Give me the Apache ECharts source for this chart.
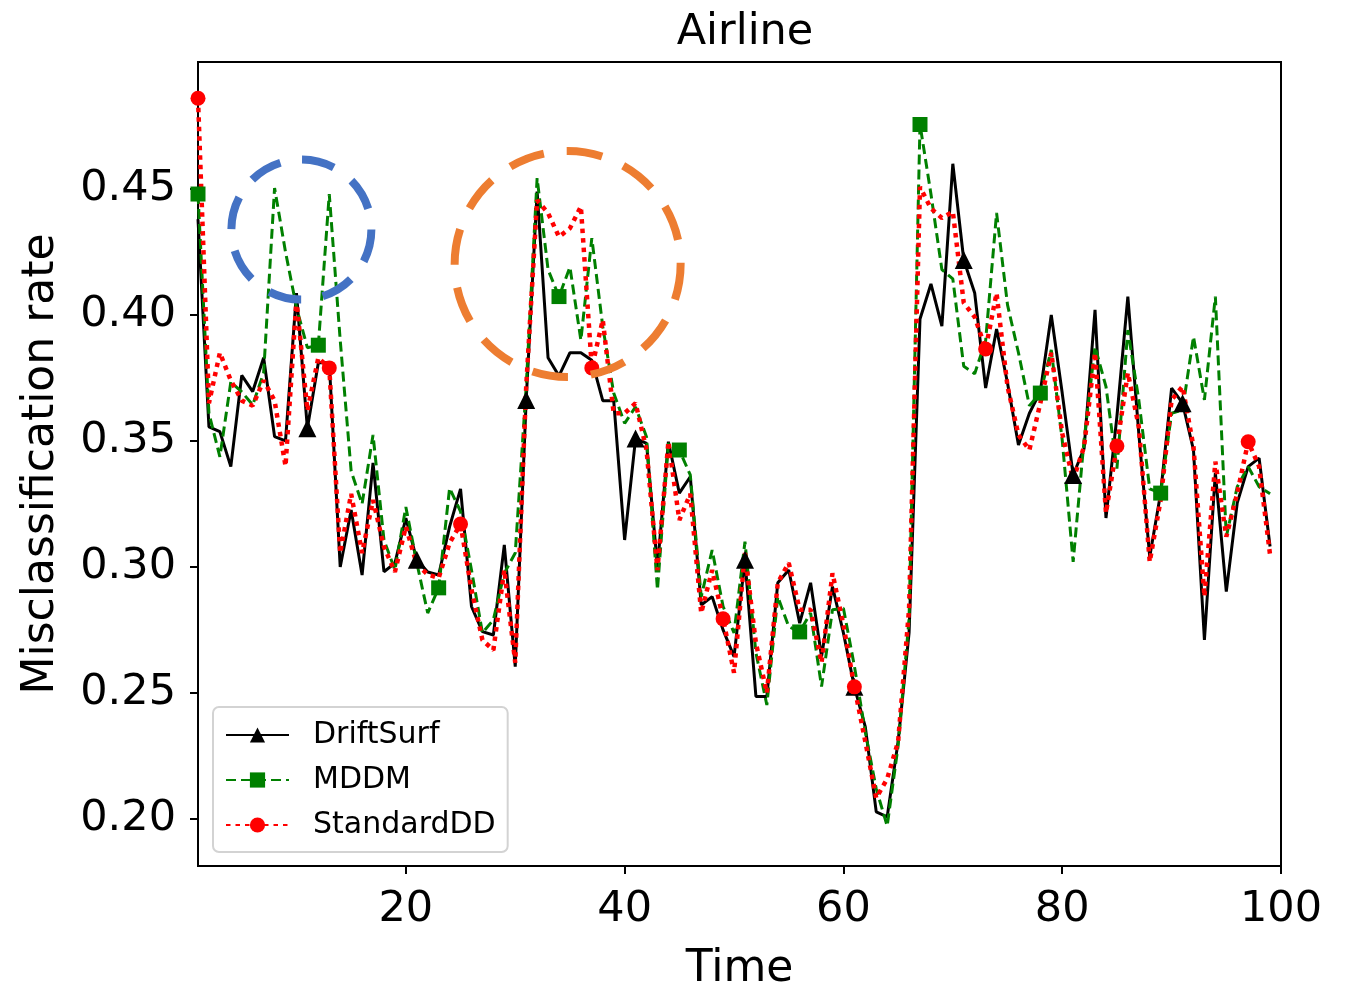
<!DOCTYPE html>
<html>
<head>
<meta charset="utf-8">
<script src="https://cdn.jsdelivr.net/npm/echarts@6.0.0/dist/echarts.min.js"></script>
<style>
  html, body { margin: 0; padding: 0; background: #fff; }
  #chart { width: 1350px; height: 989px; }
</style>
</head>
<body>
<div id="chart"></div>
<script>
// time steps 1..99
const time = [];
for (let t = 1; t <= 99; t++) time.push(t);

const driftSurf = [
  0.438, 0.3556, 0.3537, 0.3398, 0.376, 0.3696, 0.383, 0.3517, 0.350, 0.4087,
  0.355, 0.381, 0.381, 0.300, 0.3226, 0.2968, 0.3413, 0.2981, 0.3015, 0.3194,
  0.3028, 0.298, 0.2968, 0.316, 0.331, 0.2843, 0.2743, 0.273, 0.3087, 0.2604,
  0.3663, 0.449, 0.383, 0.3758, 0.385, 0.385, 0.382, 0.366, 0.366, 0.3107,
  0.351, 0.349, 0.300, 0.3497, 0.3293, 0.3358, 0.2849, 0.2882, 0.275, 0.2644,
  0.3028, 0.2486, 0.2486, 0.2937, 0.2988, 0.2777, 0.2937, 0.2644, 0.2922, 0.2738,
  0.2524, 0.2365, 0.2028, 0.2008, 0.2307, 0.2738, 0.3984, 0.4123, 0.3956, 0.46,
  0.4218, 0.4087, 0.371, 0.3944, 0.373, 0.3484, 0.361, 0.3696, 0.400, 0.369,
  0.3365, 0.347, 0.402, 0.3194, 0.3597, 0.4073, 0.353, 0.304, 0.3293, 0.371,
  0.365, 0.3464, 0.271, 0.3373, 0.2902, 0.3254, 0.3398, 0.3432, 0.3081
];

const mddm = [
  0.448, 0.361, 0.3437, 0.3734, 0.3695, 0.3643, 0.377, 0.4504, 0.425, 0.403,
  0.387, 0.388, 0.448, 0.39, 0.338, 0.325, 0.3524, 0.3107, 0.2988, 0.3238,
  0.3016, 0.2817, 0.2917, 0.3313, 0.322, 0.2988, 0.2738, 0.279, 0.2975, 0.3055,
  0.3715, 0.4543, 0.418, 0.4073, 0.419, 0.390, 0.4305, 0.3954, 0.369, 0.357,
  0.3635, 0.3516, 0.2909, 0.349, 0.3464, 0.3365, 0.2882, 0.3067, 0.2843, 0.2738,
  0.310, 0.2659, 0.2452, 0.2882, 0.2763, 0.2742, 0.2817, 0.2525, 0.283, 0.2836,
  0.2607, 0.2345, 0.2119, 0.1972, 0.229, 0.2794, 0.4756, 0.448, 0.418, 0.4143,
  0.3796, 0.3767, 0.3898, 0.4405, 0.404, 0.385, 0.364, 0.369, 0.3861, 0.3504,
  0.302, 0.3504, 0.3874, 0.3716, 0.339, 0.394, 0.3663, 0.331, 0.3293, 0.361,
  0.3623, 0.3914, 0.3663, 0.4073, 0.312, 0.3318, 0.3398, 0.3318, 0.329
];

const standardDD = [
  0.486, 0.365, 0.385, 0.374, 0.366, 0.364, 0.374, 0.366, 0.340, 0.406,
  0.362, 0.383, 0.379, 0.3055, 0.329, 0.3055, 0.3266, 0.308, 0.298, 0.316,
  0.301, 0.297, 0.2956, 0.3095, 0.317, 0.291, 0.271, 0.267, 0.2988, 0.262,
  0.3715, 0.4456, 0.4404, 0.431, 0.4344, 0.443, 0.379, 0.398, 0.361, 0.361,
  0.365, 0.3465, 0.2988, 0.3497, 0.3186, 0.329, 0.2817, 0.2988, 0.2794, 0.258,
  0.3055, 0.2698, 0.25, 0.2937, 0.3016, 0.283, 0.283, 0.262, 0.2975, 0.277,
  0.2524, 0.2307, 0.2083, 0.2159, 0.2307, 0.2833, 0.4508, 0.4423, 0.4385, 0.441,
  0.4048, 0.3992, 0.3865, 0.4087, 0.3716, 0.3524, 0.3464, 0.365, 0.385, 0.353,
  0.3345, 0.3477, 0.385, 0.3214, 0.348, 0.377, 0.3557, 0.302, 0.3266, 0.3663,
  0.3716, 0.3477, 0.2882, 0.3418, 0.312, 0.3293, 0.3497, 0.3398, 0.3048
];

const xTicks = [20, 40, 60, 80, 100];
const yTicks = [0.20, 0.25, 0.30, 0.35, 0.40, 0.45];

const FONT = 'DejaVu Sans';

function pairs(arr) {
  return arr.map((v, i) => [time[i], v]);
}

var chart = echarts.init(document.getElementById('chart'));

var option = {
  animation: false,
  backgroundColor: '#fff',
  title: {
    text: 'Airline',
    left: 740,
    textAlign: 'center',
    top: 6,
    textStyle: { fontFamily: FONT, fontSize: 43, fontWeight: 'normal', color: '#000' }
  },
  grid: {
    left: 198, right: 69, top: 62, bottom: 123,
    outerBoundsMode: 'none',
    show: true, borderColor: '#000', borderWidth: 2, backgroundColor: 'transparent'
  },
  legend: {
    orient: 'vertical',
    left: 213, top: 707,
    padding: [13, 12, 12, 12],
    itemWidth: 63, itemHeight: 19, itemGap: 15,
    backgroundColor: '#fff',
    borderColor: '#d3d3d3', borderWidth: 2, borderRadius: 6,
    textStyle: { fontFamily: FONT, fontSize: 30, color: '#000', padding: [0, 0, 0, 19] },
    data: ['DriftSurf', 'MDDM', 'StandardDD']
  },
  xAxis: {
    type: 'value',
    min: 1, max: 100,
    name: 'Time', nameLocation: 'middle', nameGap: 82,
    nameTextStyle: { fontFamily: FONT, fontSize: 44, color: '#000' },
    axisLine: { lineStyle: { color: '#000', width: 2 } },
    axisTick: { show: true, length: 8, lineStyle: { color: '#000', width: 2 }, customValues: xTicks },
    axisLabel: { fontFamily: FONT, fontSize: 43, color: '#000', margin: 22, customValues: xTicks },
    splitLine: { show: false }
  },
  yAxis: {
    type: 'value',
    min: 0.1813, max: 0.5004,
    name: 'Misclassification rate', nameLocation: 'middle', nameGap: 134,
    nameTextStyle: { fontFamily: FONT, fontSize: 44, color: '#000' },
    axisLine: { show: true, lineStyle: { color: '#000', width: 2 } },
    axisTick: { show: true, length: 8, lineStyle: { color: '#000', width: 2 }, customValues: yTicks },
    axisLabel: {
      fontFamily: FONT, fontSize: 43, color: '#000', margin: 22, customValues: yTicks,
      formatter: v => v.toFixed(2)
    },
    splitLine: { show: false }
  },
  series: [
    {
      name: 'DriftSurf',
      type: 'line',
      data: pairs(driftSurf),
      color: '#000',
      lineStyle: { color: '#000', width: 3 },
      symbol: 'triangle',
      showAllSymbol: true,
      // triangle every 10 steps, from t=11
      symbolSize: (v, p) => (p.dataIndex > 0 && p.dataIndex % 10 === 0 ? 18 : 0),
      itemStyle: { color: '#000' },
      emphasis: { disabled: true }
    },
    {
      name: 'MDDM',
      type: 'line',
      data: pairs(mddm),
      color: '#008000',
      lineStyle: { color: '#008000', width: 3, type: [10, 5] },
      symbol: 'rect',
      showAllSymbol: true,
      symbolSize: (v, p) => (p.dataIndex % 11 === 0 ? 15 : 0),
      itemStyle: { color: '#008000' },
      emphasis: { disabled: true }
    },
    {
      name: 'StandardDD',
      type: 'line',
      data: pairs(standardDD),
      color: '#ff0000',
      lineStyle: { color: '#ff0000', width: 4.5, type: [4.5, 5], cap: 'butt' },
      symbol: 'circle',
      showAllSymbol: true,
      symbolSize: (v, p) => (p.dataIndex % 12 === 0 ? 15 : 0),
      itemStyle: { color: '#ff0000' },
      emphasis: { disabled: true }
    }
  ]
};

chart.setOption(option);

// dashed highlight circles (annotations), placed in data coordinates
var blueC = chart.convertToPixel({ gridIndex: 0 }, [10.45, 0.4339]);
var orangeC = chart.convertToPixel({ gridIndex: 0 }, [34.79, 0.4202]);
chart.setOption({
  graphic: [
    {
      type: 'circle', z: 10,
      shape: { cx: blueC[0], cy: blueC[1], r: 70 },
      style: { fill: 'none', stroke: '#4472C4', lineWidth: 8, lineDash: [33, 22] }
    },
    {
      type: 'circle', z: 10,
      shape: { cx: orangeC[0], cy: orangeC[1], r: 113 },
      style: { fill: 'none', stroke: '#ED7D31', lineWidth: 8, lineDash: [36, 23] }
    }
  ]
});
</script>
</body>
</html>
